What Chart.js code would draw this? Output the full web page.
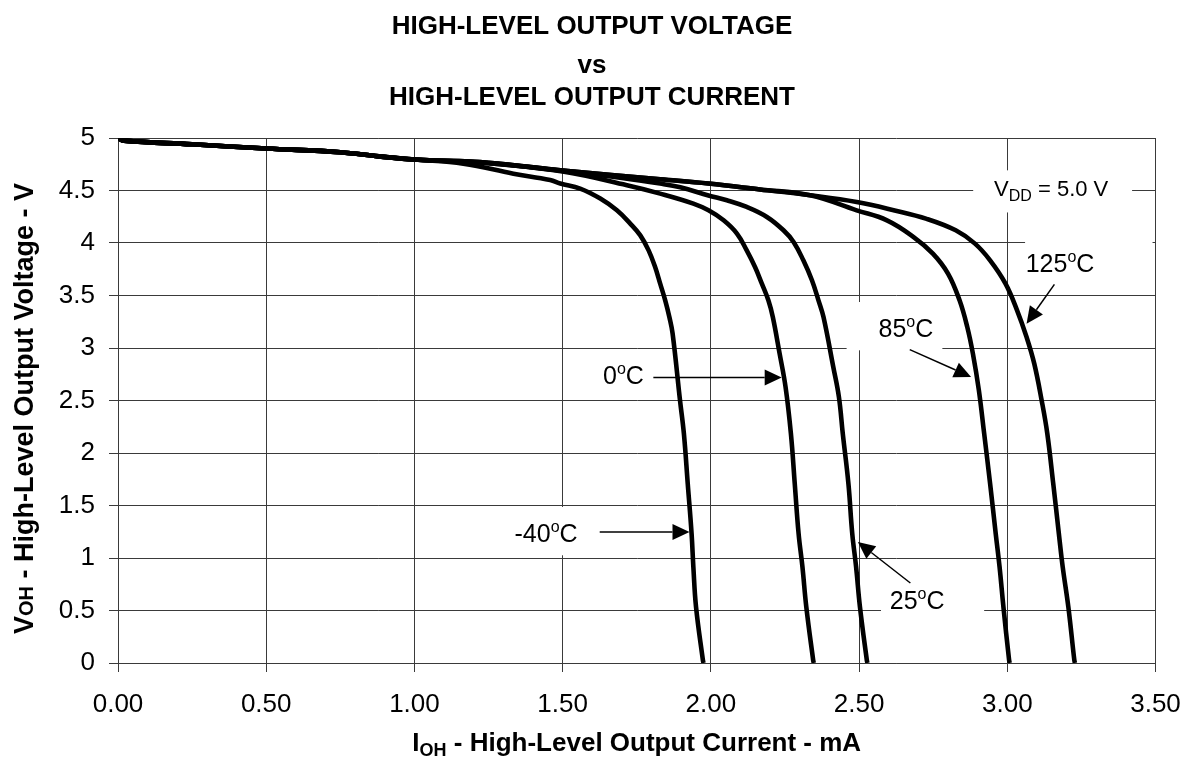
<!DOCTYPE html>
<html>
<head>
<meta charset="utf-8">
<script src="https://cdn.jsdelivr.net/npm/chart.js@4.4.1/dist/chart.umd.min.js"></script>
<style>
  html, body { margin: 0; padding: 0; background: #fff; }
  canvas { display: block; }
</style>
</head>
<body>
<canvas id="chart" width="1184" height="765"></canvas>
<script>
/* ─── Data (I_OH in mA, V_OH in V) ───────────────────────────────────── */
// shared start of all five curves
const commonI = [0.00, 0.02, 0.25, 0.50, 0.75, 0.88, 1.00];
const commonV = [5.00, 4.975, 4.94, 4.90, 4.865, 4.825, 4.795];

const m40I = [1.165, 1.334, 1.458, 1.492, 1.559, 1.627, 1.683, 1.728, 1.762, 1.790, 1.812, 1.829, 1.846, 1.860, 1.871, 1.896, 1.909, 1.922, 1.935, 1.941, 1.950, 1.973, 1.975];
const m40V = [4.755, 4.660, 4.600, 4.566, 4.518, 4.423, 4.311, 4.185, 4.073, 3.930, 3.771, 3.613, 3.454, 3.295, 3.137, 2.500, 2.185, 1.709, 1.232, 0.914, 0.533, 0.030, 0.000];

const t0I = [1.25, 1.50, 1.717, 1.829, 1.941, 1.992, 2.043, 2.088, 2.121, 2.149, 2.172, 2.194, 2.209, 2.232, 2.252, 2.270, 2.283, 2.296, 2.309, 2.322, 2.345, 2.347];
const t0V = [4.760, 4.680, 4.550, 4.470, 4.375, 4.311, 4.216, 4.090, 3.930, 3.771, 3.613, 3.454, 3.295, 2.946, 2.629, 2.185, 1.709, 1.232, 0.914, 0.533, 0.030, 0.000];

const t25I = [1.25, 1.50, 1.70, 1.829, 1.897, 1.992, 2.054, 2.121, 2.189, 2.245, 2.279, 2.312, 2.341, 2.363, 2.380, 2.413, 2.432, 2.445, 2.464, 2.477, 2.490, 2.503, 2.526, 2.528];
const t25V = [4.760, 4.687, 4.620, 4.566, 4.530, 4.453, 4.407, 4.343, 4.248, 4.121, 4.010, 3.835, 3.645, 3.454, 3.295, 2.819, 2.533, 2.185, 1.709, 1.232, 0.914, 0.533, 0.030, 0.000];

const t85I = [1.25, 1.50, 1.829, 1.992, 2.166, 2.335, 2.492, 2.594, 2.684, 2.749, 2.800, 2.839, 2.865, 2.884, 2.904, 2.922, 2.942, 2.961, 2.974, 2.987, 3.006, 3.008];
const t85V = [4.765, 4.690, 4.607, 4.566, 4.510, 4.454, 4.311, 4.216, 4.057, 3.899, 3.709, 3.454, 3.200, 2.946, 2.600, 2.185, 1.709, 1.232, 0.914, 0.533, 0.030, 0.000];

const t125I = [1.25, 1.50, 1.829, 1.992, 2.166, 2.335, 2.492, 2.620, 2.728, 2.826, 2.891, 2.942, 2.994, 3.033, 3.065, 3.091, 3.116, 3.135, 3.155, 3.174, 3.187, 3.206, 3.226, 3.228];
const t125V = [4.765, 4.690, 4.607, 4.566, 4.510, 4.454, 4.390, 4.310, 4.230, 4.121, 3.994, 3.835, 3.613, 3.359, 3.105, 2.851, 2.500, 2.185, 1.709, 1.232, 0.914, 0.533, 0.030, 0.000];

const seriesNames = ["-40°C", "0°C", "25°C", "85°C", "125°C"];
const seriesI = [m40I, t0I, t25I, t85I, t125I];
const seriesV = [m40V, t0V, t25V, t85V, t125V];

const titleLines = ["HIGH-LEVEL OUTPUT VOLTAGE", "vs", "HIGH-LEVEL OUTPUT CURRENT"];

/* ─── Annotations (data units) ───────────────────────────────────────── */
const FONT = "'Liberation Sans', Arial, Helvetica, sans-serif";
const tempLabels = [
  // [number, centre I, baseline V]
  ["-40", 1.444, 1.152],
  ["0",   1.705, 2.661],
  ["25",  2.696, 0.518],
  ["85",  2.658, 3.105],
  ["125", 3.178, 3.724],
];
const arrows = [
  // [fromI, fromV, toI, toV]
  [1.625, 1.248, 1.928, 1.248],
  [1.806, 2.718, 2.239, 2.718],
  [2.673, 0.762, 2.496, 1.152],
  [2.671, 2.985, 2.878, 2.724],
  [3.159, 3.606, 3.065, 3.232],
];
const boxes = [
  // white text boxes: [I1, Vtop, I2, Vbottom]
  [1.290, 1.486, 1.600, 1.026],
  [1.566, 2.978, 1.802, 2.533],
  [2.574, 0.834, 2.922, 0.359],
  [2.458, 3.438, 2.781, 2.978],
  [3.060, 4.100, 3.490, 3.550],
  [2.885, 4.692, 3.421, 4.291],
];
const vddLabel = [3.148, 4.445];

/* ─── Helpers ────────────────────────────────────────────────────────── */
function runsWidth(ctx, runs) {
  let w = 0;
  runs.forEach(r => { ctx.font = `${r.bold ? "bold " : ""}${r.size}px ${FONT}`; w += ctx.measureText(r.t).width; });
  return w;
}
function drawRuns(ctx, runs, cx, by) {
  let x = cx - runsWidth(ctx, runs) / 2;
  ctx.textAlign = "left";
  ctx.textBaseline = "alphabetic";
  runs.forEach(r => {
    ctx.font = `${r.bold ? "bold " : ""}${r.size}px ${FONT}`;
    ctx.fillText(r.t, x, by + (r.dy || 0));
    x += ctx.measureText(r.t).width;
  });
}
function arrow(ctx, x1, y1, x2, y2) {
  const a = Math.atan2(y2 - y1, x2 - x1), len = 17, half = 8;
  ctx.beginPath();
  ctx.moveTo(x1, y1);
  ctx.lineTo(x2 - Math.cos(a) * len, y2 - Math.sin(a) * len);
  ctx.stroke();
  ctx.beginPath();
  ctx.moveTo(x2, y2);
  ctx.lineTo(x2 - Math.cos(a) * len - Math.sin(a) * half, y2 - Math.sin(a) * len + Math.cos(a) * half);
  ctx.lineTo(x2 - Math.cos(a) * len + Math.sin(a) * half, y2 - Math.sin(a) * len - Math.cos(a) * half);
  ctx.closePath();
  ctx.fill();
}

/* ─── Plugin: title, axis titles, boxes, arrows, labels ──────────────── */
const decor = {
  id: "decor",
  beforeDatasetsDraw(chart) {
    const { ctx, scales: { x, y } } = chart;
    ctx.save();
    ctx.fillStyle = "#fff";
    boxes.forEach(b => {
      const x1 = x.getPixelForValue(b[0]), y1 = y.getPixelForValue(b[1]);
      const x2 = x.getPixelForValue(b[2]), y2 = y.getPixelForValue(b[3]);
      ctx.fillRect(x1, y1, x2 - x1, y2 - y1);
    });
    ctx.restore();
  },
  afterDatasetsDraw(chart) {
    const { ctx, scales: { x, y } } = chart;
    ctx.save();
    ctx.fillStyle = "#000";
    ctx.strokeStyle = "#000";
    ctx.lineWidth = 1.5;
    arrows.forEach(a => arrow(ctx,
      x.getPixelForValue(a[0]), y.getPixelForValue(a[1]),
      x.getPixelForValue(a[2]), y.getPixelForValue(a[3])));

    tempLabels.forEach(([t, i, v]) => drawRuns(ctx, [
      { t, size: 25 }, { t: "o", size: 16, dy: -10 }, { t: "C", size: 25 },
    ], x.getPixelForValue(i), y.getPixelForValue(v)));

    drawRuns(ctx, [
      { t: "V", size: 22 }, { t: "DD", size: 16, dy: 5 }, { t: " = 5.0 V", size: 22 },
    ], x.getPixelForValue(vddLabel[0]), y.getPixelForValue(vddLabel[1]));
    ctx.restore();
  },
  afterDraw(chart) {
    const { ctx, chartArea: ca } = chart;
    ctx.save();
    ctx.fillStyle = "#000";
    // title
    const base = [34, 72.5, 104.5];
    titleLines.forEach((t, k) => drawRuns(ctx, [{ t, size: 26, bold: true }], 592, base[k]));
    // x-axis title
    drawRuns(ctx, [
      { t: "I", size: 26, bold: true },
      { t: "OH", size: 18, bold: true, dy: 5 },
      { t: " - High-Level Output Current - mA", size: 26, bold: true },
    ], (ca.left + ca.right) / 2, 751);
    // y-axis title
    ctx.translate(33, (ca.top + ca.bottom) / 2 + 8);
    ctx.rotate(-Math.PI / 2);
    drawRuns(ctx, [
      { t: "V", size: 27, bold: true },
      { t: "OH", size: 20, bold: true },
      { t: " - High-Level Output Voltage - V", size: 27, bold: true },
    ], 0, 0);
    ctx.restore();
  },
};

/* ─── Chart ──────────────────────────────────────────────────────────── */
const GRID = "#3a3a3a";
const datasets = seriesNames.map((name, k) => ({
  label: name,
  data: commonI.concat(seriesI[k]).map((i, n) => ({ x: i, y: commonV.concat(seriesV[k])[n] })),
  borderColor: "#000",
  borderWidth: 4.6,
  pointRadius: 0,
  fill: false,
  tension: 0.4,
}));

new Chart(document.getElementById("chart").getContext("2d"), {
  type: "line",
  data: { datasets },
  options: {
    responsive: false,
    animation: false,
    layout: { padding: { top: 138, right: 28.5, left: 0, bottom: 0 } },
    plugins: { legend: { display: false }, tooltip: { enabled: false } },
    scales: {
      x: {
        type: "linear", min: 0, max: 3.5,
        // fixed band height; label overhang is covered by the layout padding
        afterFit: s => { s.height = 102; s.paddingLeft = 0; s.paddingRight = 0; },
        ticks: { stepSize: 0.5, color: "#000", padding: 17, font: { family: FONT, size: 26 },
                 callback: v => v.toFixed(2), maxRotation: 0 },
        grid: { color: GRID, lineWidth: 1, tickLength: 9 },
        border: { color: GRID },
      },
      y: {
        type: "linear", min: 0, max: 5,
        afterFit: s => { s.width = 118; s.paddingTop = 0; s.paddingBottom = 0; },
        ticks: { stepSize: 0.5, color: "#000", padding: 14, font: { family: FONT, size: 26 },
                 callback: v => String(v) },
        grid: { color: GRID, lineWidth: 1, tickLength: 9 },
        border: { color: GRID },
      },
    },
  },
  plugins: [decor],
});
</script>
</body>
</html>
